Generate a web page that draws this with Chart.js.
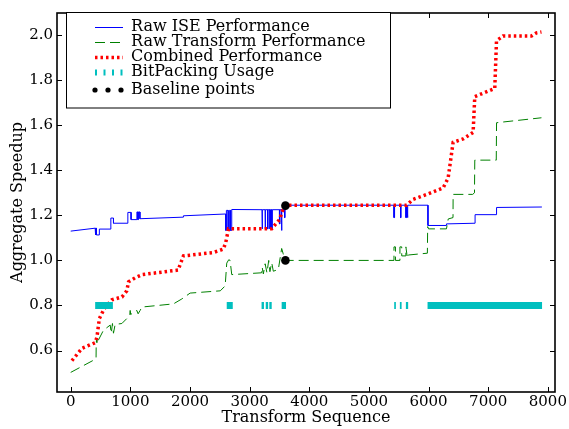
<!DOCTYPE html>
<html><head><meta charset="utf-8">
<script src="https://cdn.jsdelivr.net/npm/chart.js@4/dist/chart.umd.min.js"></script>
<style>html,body{margin:0;padding:0;background:#fff;}canvas{display:block;}</style>
</head><body>
<canvas id="c" width="569" height="429"></canvas>
<script>
// ---- data ----
const seriesLabels = ['Raw ISE Performance','Raw Transform Performance','Combined Performance','BitPacking Usage','Baseline points'];
const xTicks = [0,1000,2000,3000,4000,5000,6000,7000,8000];
const yTicks = [0.6,0.8,1.0,1.2,1.4,1.6,1.8,2.0];

const iseX = [0,410,410,420,420,430,430,480,480,673,673,717,717,958,958,1012,1012,1110,1110,1125,1125,1135,1135,1160,1160,1890,1890,2600,2600,2610,2610,2640,2640,2660,2660,2680,2680,2700,2700,3208,3208,3215,3215,3260,3260,3265,3265,3300,3300,3310,3310,3340,3340,3350,3350,3370,3370,3380,3380,3500,3500,3510,3510,3535,3535,3540,3540,3585,3585,3595,3595,5420,5420,5430,5430,5530,5530,5540,5540,5620,5620,5630,5630,5640,5640,5655,5655,5990,5990,6300,6300,6780,6780,7140,7140,7900];
const iseY = [1.130,1.143,1.113,1.113,1.143,1.143,1.113,1.113,1.139,1.139,1.188,1.188,1.165,1.165,1.213,1.213,1.181,1.181,1.215,1.215,1.181,1.181,1.215,1.215,1.185,1.192,1.198,1.206,1.133,1.133,1.222,1.222,1.133,1.133,1.222,1.222,1.133,1.133,1.226,1.225,1.14,1.14,1.225,1.225,1.14,1.14,1.225,1.225,1.14,1.14,1.225,1.225,1.14,1.14,1.225,1.225,1.14,1.14,1.225,1.225,1.162,1.162,1.225,1.225,1.133,1.133,1.225,1.225,1.19,1.19,1.245,1.245,1.19,1.19,1.245,1.245,1.19,1.19,1.245,1.245,1.19,1.19,1.245,1.245,1.19,1.19,1.245,1.245,1.155,1.155,1.162,1.165,1.203,1.203,1.235,1.237];

const transformX = [0,410,425,427,432,440,445,452,549,662,680,700,717,745,858,941,990,997,1005,1109,1130,1164,1193,1722,1863,2002,2508,2590,2616,2650,2672,2700,3200,3210,3230,3260,3290,3320,3340,3370,3397,3481,3537,3560,3590,5420,5420,5445,5445,5520,5520,5550,5550,5620,5620,5645,5660,5980,5985,6000,6300,6330,6410,6412,6740,6770,6775,7135,7140,7893];
const transformY = [0.503,0.561,0.565,0.62,0.648,0.635,0.655,0.64,0.69,0.713,0.677,0.72,0.677,0.716,0.72,0.742,0.757,0.778,0.76,0.778,0.763,0.778,0.793,0.807,0.829,0.855,0.865,0.887,0.988,1.003,1.0,0.937,0.945,0.97,0.94,0.985,0.945,1.0,0.95,0.99,0.952,0.96,1.053,1.032,1.0,1.0,1.06,1.06,1.0,1.0,1.06,1.06,1.02,1.02,1.06,1.01,1.024,1.032,1.15,1.14,1.14,1.184,1.19,1.293,1.293,1.3,1.445,1.445,1.611,1.633];

const combinedX = [20,190,410,440,480,560,690,860,940,970,1080,1200,1800,1890,2392,2559,2600,2645,3370,3509,3537,3600,5631,5742,5993,6244,6328,6412,6579,6747,6775,7110,7139,7249,7725,7809,7893];
const combinedY = [0.555,0.61,0.635,0.66,0.742,0.785,0.825,0.838,0.865,0.905,0.923,0.937,0.957,1.02,1.035,1.05,1.08,1.14,1.14,1.184,1.213,1.245,1.245,1.271,1.295,1.322,1.365,1.524,1.539,1.568,1.727,1.763,1.974,1.996,1.996,2.01,2.014];

const bitStart = [410,2616,3200,3270,3330,3537,5424,5519,5620,5983];
const bitEnd   = [707,2717,3240,3310,3370,3610,5452,5548,5658,7903];
const bitLevel = 0.8;

const baselineX = [3600,3600];
const baselineY = [1.243,1.0];

// ---- build ----
const pts = (xs, ys) => xs.map((x,i)=>({x:x, y:ys[i]}));
const bitPts = [];
bitStart.forEach((s,i)=>{ bitPts.push({x:s,y:bitLevel},{x:bitEnd[i],y:bitLevel},{x:bitEnd[i],y:null}); });

const FONT = 'DejaVu Serif';
const styles = [
  {color:'#0000ff', width:1, dash:[]},
  {color:'#008000', width:1, dash:[10,5]},
  {color:'#ff0000', width:3.5, dash:[2.5,3]},
  {color:'#00bfbf', width:7, dash:[]},
  {color:'#000000'}
];

const frameTicks = {
  id:'frameTicks',
  afterDatasetsDraw(chart){
    const {ctx, chartArea:a, scales} = chart;
    ctx.save();
    ctx.strokeStyle='#000'; ctx.lineWidth=1;
    const L=5;
    ctx.beginPath();
    scales.x.ticks.forEach(t=>{
      const px=Math.round(scales.x.getPixelForValue(t.value))+0.5;
      ctx.moveTo(px,a.bottom); ctx.lineTo(px,a.bottom-L);
      ctx.moveTo(px,a.top); ctx.lineTo(px,a.top+L);
    });
    scales.y.ticks.forEach(t=>{
      const py=Math.round(scales.y.getPixelForValue(t.value))+0.5;
      ctx.moveTo(a.left,py); ctx.lineTo(a.left+L,py);
      ctx.moveTo(a.right,py); ctx.lineTo(a.right-L,py);
    });
    ctx.stroke();
    ctx.lineWidth=1.6;
    ctx.strokeRect(a.left,a.top,a.right-a.left,a.bottom-a.top);
    // legend
    const bx=66.5, by=12.5, bw=324, bh=95.5;
    ctx.fillStyle='#fff'; ctx.fillRect(bx,by,bw,bh);
    ctx.lineWidth=1; ctx.strokeStyle='#000'; ctx.strokeRect(bx,by,bw,bh);
    const rows=[26.7,41.7,56.7,71.7,90];
    const x0=95, x1=121;
    chart.data.datasets.forEach((ds,i)=>{
      const y=rows[i]; const st=styles[i];
      if(i<4){
        ctx.save();
        ctx.strokeStyle=st.color; ctx.lineCap='butt';
        if(i===3){ ctx.lineWidth=6; ctx.setLineDash([2,6.5]); }
        else { ctx.lineWidth=st.width; ctx.setLineDash(st.dash); }
        ctx.beginPath(); ctx.moveTo(x0,Math.round(y)+0.5); ctx.lineTo(x1+2,Math.round(y)+0.5); ctx.stroke();
        ctx.restore();
      } else {
        ctx.fillStyle='#000';
        [x0,x0+13,x0+26].forEach(cx=>{ctx.beginPath();ctx.arc(cx,y,2.6,0,Math.PI*2);ctx.fill();});
      }
      ctx.fillStyle='#000'; ctx.font='16px "'+FONT+'"'; ctx.textBaseline='middle'; ctx.textAlign='left';
      ctx.fillText(ds.label,131,y);
    });
    ctx.restore();
  }
};

new Chart(document.getElementById('c'), {
  type:'line',
  data:{datasets:[
    {label:seriesLabels[0], data:pts(iseX,iseY), borderColor:styles[0].color, borderWidth:1, pointRadius:0, order:5},
    {label:seriesLabels[1], data:pts(transformX,transformY), borderColor:styles[1].color, borderWidth:1, borderDash:styles[1].dash, pointRadius:0, order:4},
    {label:seriesLabels[2], data:pts(combinedX,combinedY), borderColor:styles[2].color, borderWidth:3.5, borderDash:styles[2].dash, borderCapStyle:'butt', pointRadius:0, order:3},
    {label:seriesLabels[3], data:bitPts, borderColor:styles[3].color, borderWidth:7, borderCapStyle:'butt', pointRadius:0, spanGaps:false, order:2},
    {label:seriesLabels[4], data:pts(baselineX,baselineY), showLine:false, pointRadius:4.3, pointBackgroundColor:'#000', pointBorderColor:'#000', pointBorderWidth:0, order:1}
  ]},
  options:{
    responsive:false, animation:false, devicePixelRatio:1,
    layout:{padding:{top:5,right:14,left:0,bottom:0}},
    plugins:{legend:{display:false}, tooltip:{enabled:false}},
    elements:{line:{tension:0, fill:false}},
    scales:{
      x:{type:'linear', min:-230, max:8120,
        afterBuildTicks:s=>{s.ticks=xTicks.map(v=>({value:v}));},
        afterFit:s=>{s.height=37;},
        grid:{display:false, drawTicks:false}, border:{display:false},
        ticks:{color:'#000', font:{family:FONT,size:15}, padding:1, maxRotation:0, autoSkip:false, callback:v=>String(v)},
        title:{display:true, text:'Transform Sequence', color:'#000', font:{family:FONT,size:16}, padding:{top:0,bottom:2}}
      },
      y:{type:'linear', min:0.416, max:2.098,
        afterBuildTicks:s=>{s.ticks=yTicks.map(v=>({value:v}));},
        afterFit:s=>{s.width=57;},
        grid:{display:false, drawTicks:false}, border:{display:false},
        ticks:{color:'#000', font:{family:FONT,size:15}, padding:4, autoSkip:false, callback:v=>Number(v).toFixed(1)},
        title:{display:true, text:'Aggregate Speedup', color:'#000', font:{family:FONT,size:16}, padding:{top:8,bottom:0}}
      }
    }
  },
  plugins:[frameTicks]
});
</script>
</body></html>
